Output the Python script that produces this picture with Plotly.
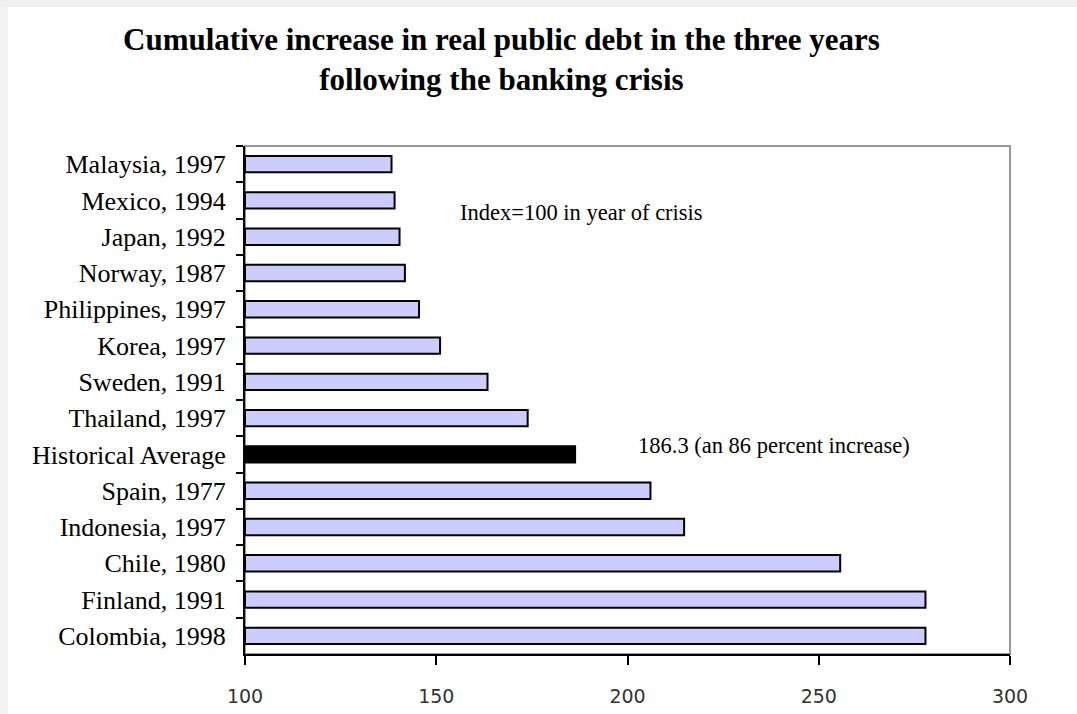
import plotly.graph_objects as go

categories = ["Malaysia, 1997", "Mexico, 1994", "Japan, 1992", "Norway, 1987",
              "Philippines, 1997", "Korea, 1997", "Sweden, 1991", "Thailand, 1997",
              "Historical Average", "Spain, 1977", "Indonesia, 1997", "Chile, 1980",
              "Finland, 1991", "Colombia, 1998"]
values = [138.3, 139.1, 140.4, 141.8, 145.5, 151.0, 163.4, 173.9,
          186.3, 206.0, 214.8, 255.6, 277.9, 277.9]
x_ticks = [100, 150, 200, 250, 300]

colors = ["#000000" if c == "Historical Average" else "#ccccff" for c in categories]

fig = go.Figure()
fig.add_trace(go.Bar(
    y=categories, x=[v - 100 for v in values], base=100, orientation="h",
    marker=dict(color=colors, line=dict(color="#000000", width=2)),
    hoverinfo="skip",
))

serif = "Liberation Serif, Times New Roman, serif"
PL, PR, PT, PB = 245, 67, 146, 60
PW, PH = 1077 - PL - PR, 714 - PT - PB

fig.update_layout(
    width=1077, height=714,
    paper_bgcolor="#ffffff", plot_bgcolor="#ffffff",
    margin=dict(l=PL, r=PR, t=PT, b=PB, autoexpand=False),
    showlegend=False,
    bargap=0.55,
    xaxis=dict(
        range=[100, 300], tickvals=x_ticks, ticktext=[str(t) for t in x_ticks],
        showgrid=False, zeroline=False, automargin=False,
        showline=True, linecolor="#000000", linewidth=2,
        ticks="outside", ticklen=9, tickwidth=2, tickcolor="#000000",
        ticklabelstandoff=15,
        tickfont=dict(family="DejaVu Sans, sans-serif", size=19, color="#333333"),
    ),
    yaxis=dict(
        type="category", categoryorder="array", categoryarray=categories,
        autorange="reversed", automargin=False,
        showgrid=False, zeroline=False,
        showline=True, linecolor="#000000", linewidth=2,
        ticks="outside", tickson="boundaries", ticklen=7, tickwidth=2, tickcolor="#000000",
        ticklabelstandoff=12,
        tickfont=dict(family=serif, size=26, color="#000000"),
    ),
    shapes=[
        dict(type="rect", xref="paper", yref="paper", x0=0, x1=1, y0=0, y1=1,
             line=dict(color="#999999", width=2), fillcolor="rgba(0,0,0,0)", layer="below"),
        dict(type="rect", xref="paper", yref="paper", x0=-PL/PW, x1=(1077-PL)/PW,
             y0=1 + (PT - 7)/PH, y1=1 + PT/PH, line=dict(width=0), fillcolor="#f0f0f0", layer="below"),
        dict(type="rect", xref="paper", yref="paper", x0=-PL/PW, x1=-(PL - 8)/PW,
             y0=-PB/PH, y1=1 + (PT - 7)/PH, line=dict(width=0), fillcolor="#f3f3f3", layer="below"),
    ],
    annotations=[
        dict(text="<b>Cumulative increase in real public debt in the three years<br>following the banking crisis</b>",
             xref="paper", yref="paper", x=(501 - PL)/PW, y=1 + (PT - 59)/PH,
             xanchor="center", yanchor="middle", showarrow=False,
             font=dict(family=serif, size=31, color="#000000")),
        dict(text="Index=100 in year of crisis", x=155.7, y="Mexico, 1994", yshift=-12,
             xref="x", yref="y", xanchor="left", yanchor="middle", showarrow=False,
             font=dict(family=serif, size=22.5, color="#000000")),
        dict(text="186.3 (an 86 percent increase)", x=202.2, y="Historical Average", yshift=9,
             xref="x", yref="y", xanchor="left", yanchor="middle", showarrow=False,
             font=dict(family=serif, size=22.5, color="#000000")),
    ],
)

fig.write_html("out.html")
